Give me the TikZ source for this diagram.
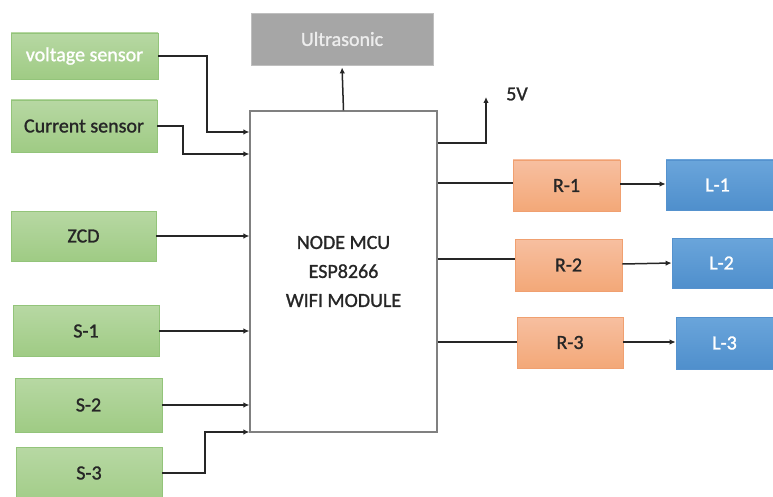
\documentclass[tikz,border=0pt]{standalone}
\usepackage{fontspec}
\setmainfont{Carlito}[UprightFeatures={FakeBold=1.2}]
\usetikzlibrary{arrows.meta}
\definecolor{txt}{HTML}{262626}
\definecolor{gtop}{HTML}{B7D8A3}
\definecolor{gbot}{HTML}{9FCB84}
\definecolor{gbd}{HTML}{93C47A}
\definecolor{otop}{HTML}{F7BFA0}
\definecolor{obot}{HTML}{F3A878}
\definecolor{obd}{HTML}{F0A070}
\definecolor{btop}{HTML}{6AA5DB}
\definecolor{bbot}{HTML}{4F8FCC}
\definecolor{bbd}{HTML}{5592CE}
\tikzset{
  base/.style={inner sep=0pt, font=\fontsize{20}{29}\selectfont, align=center, text=txt},
  gbox/.style={base, top color=gtop, bottom color=gbot, draw=gbd, line width=0.8pt},
  obox/.style={base, top color=otop, bottom color=obot, draw=obd, line width=0.8pt},
  lbox/.style={base, top color=btop, bottom color=bbot, draw=bbd, line width=0.8pt, text=white},
  ubox/.style={base, fill=black!35, draw=black!25, line width=0.8pt, text=white!93!black},
  mcubox/.style={base, draw=black!50, line width=1.2pt, fill=white},
  wire/.style={draw=txt, line width=1.5pt},
  arr/.style={wire, -{Latex[length=6pt,width=5.5pt]}}
}
\begin{document}
\begin{tikzpicture}[x=1pt,y=-1pt]
\useasboundingbox (0,0) rectangle (773,497);
\clip (0,0) rectangle (773,497);
% left inputs
\node[gbox, minimum width=147pt, minimum height=46pt, text=white] (v) at (84.5,56) {voltage sensor};
\node[gbox, minimum width=146pt, minimum height=52pt] (c) at (84,126) {Current sensor};
\node[gbox, minimum width=145pt, minimum height=50pt] (z) at (83.5,236) {ZCD};
\node[gbox, minimum width=146pt, minimum height=51pt] (s1) at (86,331) {S-1};
\node[gbox, minimum width=147pt, minimum height=54pt] (s2) at (88.5,405) {S-2};
\node[gbox, minimum width=146pt, minimum height=63pt] (s3) at (89,478.5) {};
\node[base] (s3t) at (89,473) {S-3};
% MCU
\node[mcubox, minimum width=187pt, minimum height=321pt] (mcu) at (343.5,271.5) {NODE MCU\\ESP8266\\WIFI MODULE};
% ultrasonic
\node[ubox, minimum width=182pt, minimum height=52pt] (us) at (342,39) {Ultrasonic};
% relays and loads
\node[obox, minimum width=107pt, minimum height=51pt] (r1) at (566.5,185.5) {R-1};
\node[obox, minimum width=107pt, minimum height=52pt] (r2) at (568.5,265) {R-2};
\node[obox, minimum width=106pt, minimum height=51pt] (r3) at (570,342.5) {R-3};
\node[lbox, minimum width=109pt, minimum height=50pt] (l1) at (720.5,185) {\hspace*{-6pt}L-1};
\node[lbox, minimum width=103pt, minimum height=50pt] (l2) at (723.5,263) {\hspace*{-4pt}L-2};
\node[lbox, minimum width=99pt, minimum height=52pt] (l3) at (725.5,343) {\hspace*{-2pt}L-3};
% 5V label
\node[base] (fv) at (517,94) {5V};
\coordinate (fvtip) at (486,97);
% input wires
\draw[arr] (v.east) -| (207,132) -- (mcu.west |- 0,132);
\draw[arr] (c.east) -| (183,154) -- (mcu.west |- 0,154);
\draw[arr] (z.east) -- (mcu.west |- z.east);
\draw[arr] (s1.east) -- (mcu.west |- s1.east);
\draw[arr] (s2.east) -- (mcu.west |- s2.east);
\draw[arr] (s3.east |- 0,473) -| (205,432) -- (mcu.west |- 0,432);
% outputs
\draw[arr, shorten >=2pt] (mcu.north) -- (us.south);
\draw[arr] (mcu.east |- 0,143) -| (fvtip);
\draw[wire] (mcu.east |- 0,183) -- (r1.west |- 0,183);
\draw[wire] (mcu.east |- 0,259) -- (r2.west |- 0,259);
\draw[wire] (mcu.east |- 0,342) -- (r3.west |- 0,342);
\draw[arr] (r1.east |- 0,184) -- (l1.west |- 0,184);
\draw[arr] (r2.east |- 0,264) -- (l2.west |- 0,263);
\draw[arr] (r3.east |- 0,342) -- (l3.west |- 0,342);
\end{tikzpicture}
\end{document}
